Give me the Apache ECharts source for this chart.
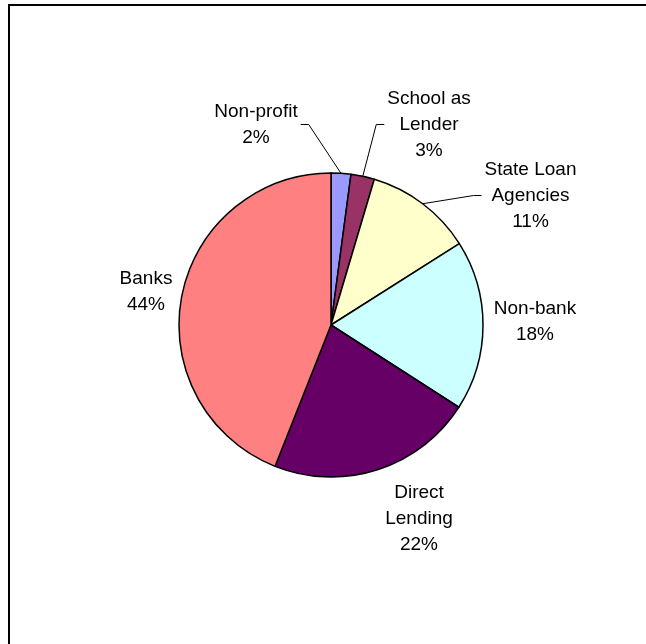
<!DOCTYPE html>
<html>
<head>
<meta charset="utf-8">
<script src="https://cdn.jsdelivr.net/npm/echarts@6/dist/echarts.min.js"></script>
<style>
  html, body { margin: 0; padding: 0; background: #fff; }
  #chart { width: 646px; height: 644px; }
</style>
</head>
<body>
<div id="chart"></div>
<script>
// categorias en orden, empezando arriba y en sentido horario
const categorias = [
  "Non-profit",
  "School as\nLender",
  "State Loan\nAgencies",
  "Non-bank",
  "Direct\nLending",
  "Banks",
];
const valores = [2.1, 2.5, 11.4, 18.1, 21.9, 44.0]; // porcentaje de cada rebanada
const colores = ["#9999FF", "#993366", "#FFFFCC", "#CCFFFF", "#660066", "#FF8080"];

// donde va cada etiqueta (centro del bloque de texto) y de que lado llega la linea
const posEtiquetas = [
  { x: 256, y: 124.5, lado: "right" },
  { x: 429, y: 124.5, lado: "left" },
  { x: 530.5, y: 195.5, lado: "left" },
  { x: 535, y: 322 },
  { x: 419, y: 519 },
  { x: 146, y: 292 },
];

function dibujarPastel() {
  const chart = echarts.init(document.getElementById("chart"));

  const datos = categorias.map((nombre, i) => ({
    name: nombre,
    value: valores[i],
    itemStyle: { color: colores[i] },
    labelLine: { show: !!posEtiquetas[i].lado },
  }));

  chart.setOption({
    animation: false,
    graphic: [
      {
        type: "rect",
        shape: { x: 9, y: 5, width: 900, height: 900 },
        style: { fill: "none", stroke: "#000", lineWidth: 2 },
        silent: true,
      },
    ],
    series: [
      {
        type: "pie",
        center: [331, 325],
        radius: 152,
        startAngle: 90,
        clockwise: true,
        data: datos,
        itemStyle: { borderColor: "#000", borderWidth: 1.5 },
        emphasis: { disabled: true },
        label: {
          position: "outside",
          color: "#000",
          fontFamily: "Liberation Sans, Arial, sans-serif",
          fontSize: 19,
          lineHeight: 26,
          align: "center",
          formatter: (p) => p.name + "\n" + Math.round(p.value) + "%",
        },
        labelLine: {
          lineStyle: { color: "#000", width: 1 },
        },
        labelLayout: function (params) {
          const pos = posEtiquetas[params.dataIndex];
          const out = { x: pos.x, y: pos.y, align: "center", verticalAlign: "middle" };
          if (pos.lado && params.labelLinePoints) {
            const inicio = params.labelLinePoints[0];
            const mitad = params.labelRect.width / 2;
            const borde = pos.lado === "right" ? pos.x + mitad + 3 : pos.x - mitad - 3;
            const codo = pos.lado === "right" ? borde + 8 : borde - 8;
            out.labelLinePoints = [inicio, [codo, pos.y], [borde, pos.y]];
          }
          return out;
        },
      },
    ],
  });
}

document.addEventListener("DOMContentLoaded", dibujarPastel);
</script>
</body>
</html>
